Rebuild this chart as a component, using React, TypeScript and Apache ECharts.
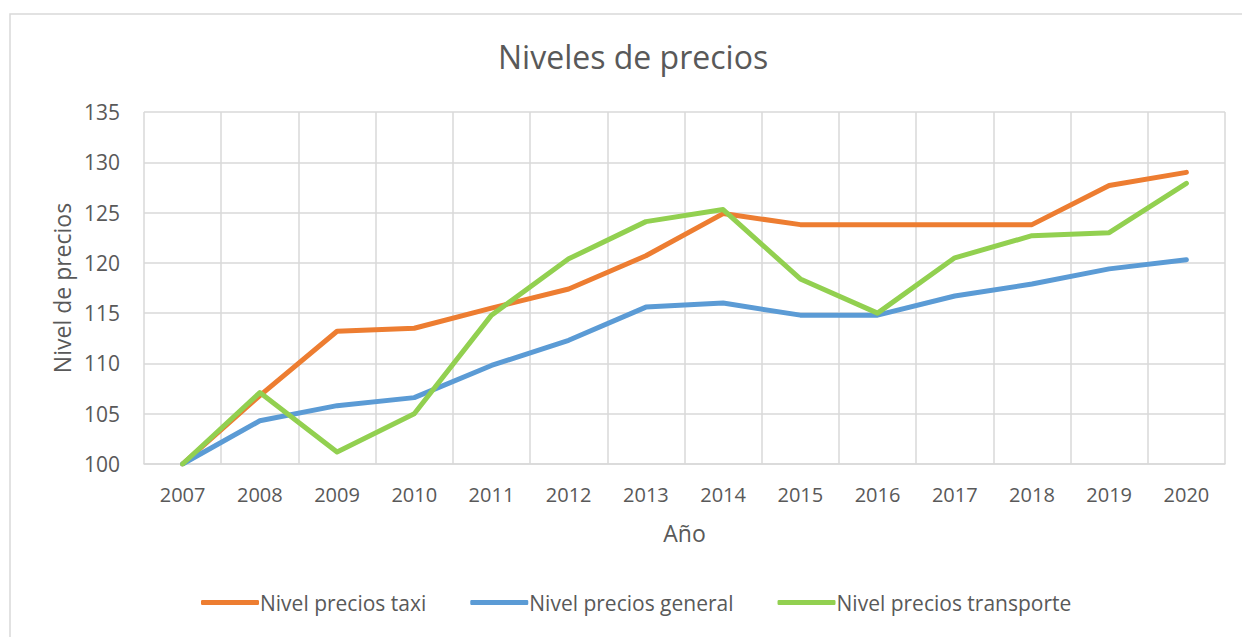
import React, { useEffect, useRef } from "react";
import * as echarts from "echarts";

const years = ["2007", "2008", "2009", "2010", "2011", "2012", "2013", "2014", "2015", "2016", "2017", "2018", "2019", "2020"];
const taxi = [100, 106.8, 113.2, 113.5, 115.5, 117.4, 120.7, 124.9, 123.8, 123.8, 123.8, 123.8, 127.7, 129.0];
const general = [100, 104.3, 105.8, 106.6, 109.8, 112.3, 115.6, 116.0, 114.8, 114.8, 116.7, 117.9, 119.4, 120.3];
const transporte = [100, 107.1, 101.2, 105.0, 114.8, 120.4, 124.1, 125.3, 118.4, 115.0, 120.5, 122.7, 123.0, 127.9];
const seriesNames = ["Nivel precios taxi", "Nivel precios general", "Nivel precios transporte"];
const colors = ["#ED7D31", "#5B9BD5", "#92D050"];

const FONT = "'Open Sans', sans-serif";
const TEXT = "#595959";
const GRID = "#d9d9d9";

export default function App() {
  const ref = useRef<HTMLDivElement>(null);
  useEffect(() => {
    document.body.style.margin = "0";
    const chart = echarts.init(ref.current!, null, { renderer: "svg" });
    const data = [taxi, general, transporte];
    chart.setOption({
      animation: false,
      backgroundColor: "#ffffff",
      textStyle: { fontFamily: FONT, color: TEXT },
      title: {
        text: "Niveles de precios",
        left: 493,
        top: 35,
        textStyle: { fontFamily: FONT, fontSize: 32, fontWeight: "normal", color: TEXT },
      },
      graphic: [
        {
          type: "rect",
          shape: { x: 10, y: 14, width: 1250, height: 650 },
          style: { fill: "none", stroke: GRID, lineWidth: 1.5 },
          silent: true,
          z: -10,
        },
      ],
      legend: {
        bottom: 19,
        left: 196,
        itemWidth: 58,
        itemHeight: 5,
        itemGap: 44,
        icon: "roundRect",
        textStyle: { fontFamily: FONT, fontSize: 21, color: TEXT, padding: [0, 0, 0, -4] },
        data: seriesNames,
      },
      grid: { left: 144, right: 17, top: 112, bottom: 173 },
      xAxis: {
        type: "category",
        data: years,
        boundaryGap: true,
        name: "Año",
        nameLocation: "middle",
        nameGap: 57,
        nameTextStyle: { fontFamily: FONT, fontSize: 23, color: TEXT },
        axisLine: { show: true, lineStyle: { color: GRID, width: 1.5 } },
        axisTick: { show: false },
        axisLabel: { fontFamily: FONT, fontSize: 20, color: TEXT, margin: 20 },
        splitLine: { show: true, lineStyle: { color: GRID, width: 1.5 } },
      },
      yAxis: {
        type: "value",
        min: 100,
        max: 135,
        interval: 5,
        name: "Nivel de precios",
        nameLocation: "middle",
        nameGap: 70,
        nameTextStyle: { fontFamily: FONT, fontSize: 23, color: TEXT },
        axisLine: { show: false },
        axisTick: { show: false },
        axisLabel: { fontFamily: FONT, fontSize: 21, color: TEXT, margin: 24 },
        splitLine: { show: true, lineStyle: { color: GRID, width: 1.5 } },
      },
      series: seriesNames.map((name, i) => ({
        name,
        type: "line",
        data: data[i],
        symbol: "none",
        color: colors[i],
        lineStyle: { color: colors[i], width: 5, cap: "round", join: "round" },
        z: 2 + i,
      })),
    });
    return () => chart.dispose();
  }, []);
  return <div ref={ref} style={{ width: 1242, height: 637 }} />;
}
